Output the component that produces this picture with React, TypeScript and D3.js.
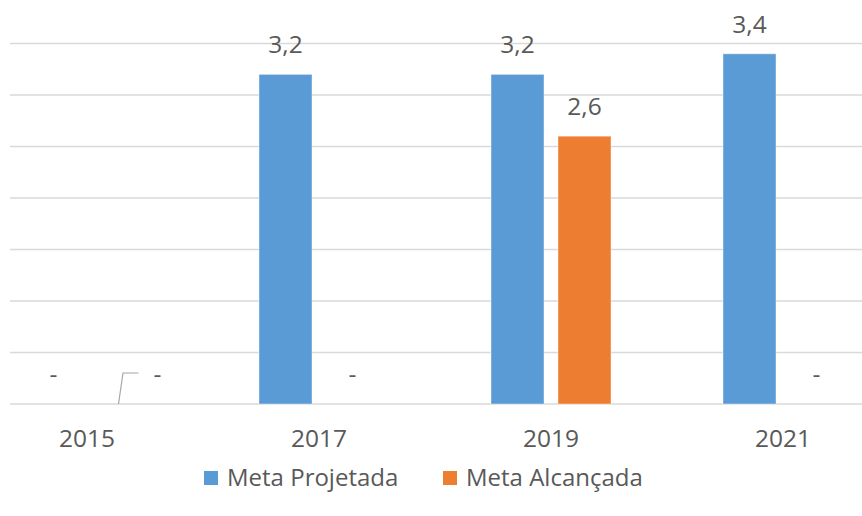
import React, { useEffect } from "react";
import * as d3 from "d3";

const years = ["2015", "2017", "2019", "2021"];
const projetada = [0, 3.2, 3.2, 3.4];
const alcancada = [0, 0, 2.6, 0];
const yTicks = [0, 0.5, 1, 1.5, 2, 2.5, 3, 3.5];
const seriesNames = ["Meta Projetada", "Meta Alcançada"];
const colors = ["#5b9bd5", "#ed7d31"];

const W = 862;
const H = 516;
const font = "'Open Sans', 'DejaVu Sans', sans-serif";
const textColor = "#595959";

const fmt = (v: number) => (v === 0 ? "-" : String(v).replace(".", ","));

const App = () => {
  useEffect(() => {
    document.body.style.margin = "0";
  }, []);

  const x = d3.scaleBand().domain(years).range([-29, 899]);
  const y = d3.scaleLinear().domain([0, 3.5]).range([404, 43.5]);
  const barW = 53;
  const gap = 7;

  const series = [projetada, alcancada];

  return (
    <svg width={W} height={H} style={{ display: "block", background: "#fff" }}>
      {yTicks.map((t) => (
        <line
          key={t}
          x1={10}
          x2={W}
          y1={y(t)}
          y2={y(t)}
          stroke="#d9d9d9"
          strokeWidth={1.5}
        />
      ))}

      {series.map((vals, si) =>
        years.map((yr, i) => {
          const c = x(yr)! + x.bandwidth() / 2;
          const left = si === 0 ? c - gap - barW : c + gap;
          const v = vals[i];
          return (
            <g key={yr + si}>
              {v > 0 && (
                <rect
                  x={left}
                  y={y(v)}
                  width={barW}
                  height={y(0) - y(v)}
                  fill={colors[si]}
                  stroke="#fff"
                  strokeOpacity={0.4}
                  strokeWidth={1}
                />
              )}
            </g>
          );
        })
      )}

      {/* data labels */}
      {series.map((vals, si) =>
        years.map((yr, i) => {
          const c = x(yr)! + x.bandwidth() / 2;
          let lx = si === 0 ? c - gap - barW / 2 : c + gap + barW / 2;
          const v = vals[i];
          // the 2015 orange label was dragged aside with a leader line
          const moved = si === 1 && i === 0;
          if (moved) lx += 37;
          return (
            <text
              key={"l" + yr + si}
              x={lx}
              y={y(v) - 21}
              textAnchor="middle"
              fontFamily={font}
              fontSize={24.5}
              fill={textColor}
            >
              {fmt(v)}
            </text>
          );
        })
      )}

      {(() => {
        const c = x(years[0])! + x.bandwidth() / 2;
        const bx = c + gap + barW / 2 - 2;
        return (
          <polyline
            points={`${bx},${y(0)} ${bx + 4.5},${y(0) - 31} ${bx + 20},${y(0) - 31}`}
            fill="none"
            stroke="#a6a6a6"
            strokeWidth={1.2}
          />
        );
      })()}

      {years.map((yr) => (
        <text
          key={"x" + yr}
          x={x(yr)! + x.bandwidth() / 2}
          y={447}
          textAnchor="middle"
          fontFamily={font}
          fontSize={24.5}
          fill={textColor}
        >
          {yr}
        </text>
      ))}

      {seriesNames.map((n, i) => {
        const lx = i === 0 ? 204 : 443;
        return (
          <g key={n}>
            <rect x={lx} y={471} width={14} height={14} fill={colors[i]} />
            <text
              x={lx + 23}
              y={486}
              fontFamily={font}
              fontSize={24}
              fill={textColor}
            >
              {n}
            </text>
          </g>
        );
      })}
    </svg>
  );
};

export default App;
